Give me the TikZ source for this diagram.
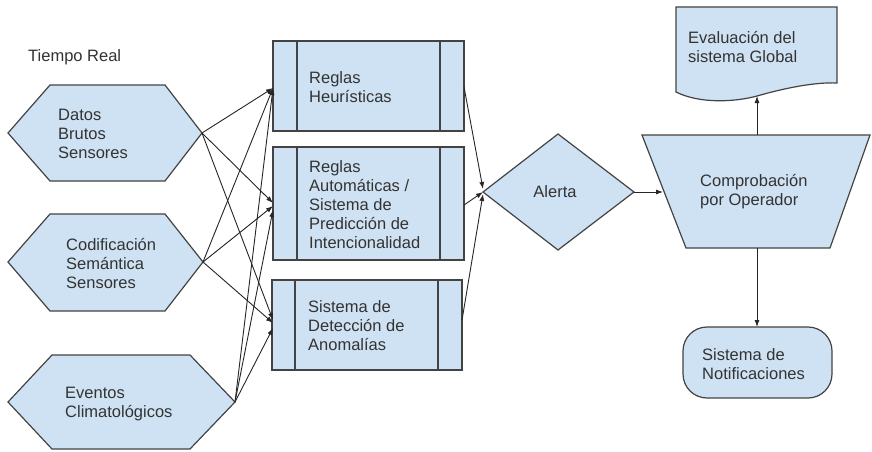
\documentclass[tikz,border=0pt]{standalone}
\usepackage{fontspec}
\setmainfont{Liberation Sans}
\usetikzlibrary{arrows.meta}
\definecolor{shapefill}{HTML}{CFE2F3}
\definecolor{shapeline}{HTML}{434343}
\definecolor{txt}{HTML}{333333}
\tikzset{
  shp/.style={draw=shapeline, fill=shapefill, line width=1.2pt, line join=miter},
  lbl/.style={anchor=west, align=left, text=txt, inner sep=0pt,
    font=\fontsize{16.5}{19}\selectfont},
  conn/.style={draw=black!85, line width=0.9pt, -{Latex[length=7pt,width=5pt]}}
}
\begin{document}
\begin{tikzpicture}[x=1pt,y=-1pt]
\useasboundingbox (0,0) rectangle (872,452);
\fill[white] (0,0) rectangle (872,452);

% title
\node[lbl] (tr) at (28,57) {Tiempo Real};

% hexagons
\draw[shp] (8,133) -- (50,85) -- (165,85) -- (202,133) -- (165,181) -- (50,181) -- cycle;
\coordinate (h1) at (202,133);
\node[lbl] (t1) at (58,134) {Datos\\Brutos\\Sensores};

\draw[shp] (8,262) -- (50,214) -- (165,214) -- (203,262) -- (165,311) -- (50,311) -- cycle;
\coordinate (h2) at (203,262);
\node[lbl] (t2) at (66,264) {Codificación\\Semántica\\Sensores};

\draw[shp] (8,402) -- (52,355) -- (190,355) -- (235,402) -- (190,449) -- (52,449) -- cycle;
\coordinate (h3) at (235,402);
\node[lbl] (t3) at (65,404) {Eventos\\Climatológicos};

% predefined process boxes
\draw[shp] (273,41) rectangle (464,131);
\draw[shapeline, line width=1.2pt] (297,41) -- (297,131) (440,41) -- (440,131);
\node[lbl] (t4) at (309,87) {Reglas\\Heurísticas};

\draw[shp] (273,147) rectangle (464,260);
\draw[shapeline, line width=1.2pt] (297,147) -- (297,260) (440,147) -- (440,260);
\node[lbl] (t5) at (309,205) {Reglas\\Automáticas /\\Sistema de\\Predicción de\\Intencionalidad};

\draw[shp] (272,280) rectangle (462,370);
\draw[shapeline, line width=1.2pt] (295,280) -- (295,370) (438,280) -- (438,370);
\node[lbl] (t6) at (308,326) {Sistema de\\Detección de\\Anomalías};

\coordinate (b1in) at (273,88);
\coordinate (b2inA) at (273,203);
\coordinate (b2inB) at (273,206);
\coordinate (b2inC) at (273,210);
\coordinate (b3inA) at (273,320);
\coordinate (b3inB) at (273,323);
\coordinate (b3inC) at (273,328);
\coordinate (b1out) at (464,87);
\coordinate (b2out) at (464,205);
\coordinate (b3out) at (462,320);

% diamond
\draw[shp] (483,192) -- (558,134) -- (634,192) -- (558,250) -- cycle;
\node[lbl, anchor=center] (al) at (555,192) {Alerta};
\coordinate (dw) at (483,192);
\coordinate (dwA) at (483,189);
\coordinate (dwB) at (483,194);
\coordinate (de) at (634,192);

% trapezoid
\draw[shp] (642,135) -- (870,135) -- (830,248) -- (686,248) -- cycle;
\node[lbl] (t7) at (700,192) {Comprobación\\por Operador};
\coordinate (tw) at (663,192);
\coordinate (tt) at (757,135);
\coordinate (tb) at (757,248);

% document
\draw[shp] (676,7) -- (837,7) -- (837,83)
  .. controls (815,82) and (785,88) .. (757,96)
  .. controls (735,102) and (700,104) .. (676,92) -- cycle;
\node[lbl] (t8) at (688,47) {Evaluación del\\sistema Global};
\coordinate (docb) at (757,96);

% terminal
\draw[shp, rounded corners=24pt] (683,327) rectangle (832,398);
\node[lbl] (t9) at (702,364) {Sistema de\\Notificaciones};
\coordinate (nt) at (757,327);

% connectors
\draw[conn] (h1) -- (b1in);
\draw[conn] (h1) -- (b2inA);
\draw[conn] (h1) -- (b3inA);
\draw[conn] (h2) -- (b1in);
\draw[conn] (h2) -- (b2inB);
\draw[conn] (h2) -- (b3inB);
\draw[conn] (h3) -- (b1in);
\draw[conn] (h3) -- (b2inC);
\draw[conn] (h3) -- (b3inC);

\draw[conn] (b1out) -- (dwA);
\draw[conn] (b2out) -- (dw);
\draw[conn] (b3out) -- (dwB);

\draw[conn] (de) -- (tw);
\draw[conn] (tt) -- (docb);
\draw[conn] (tb) -- (nt);
\end{tikzpicture}
\end{document}
